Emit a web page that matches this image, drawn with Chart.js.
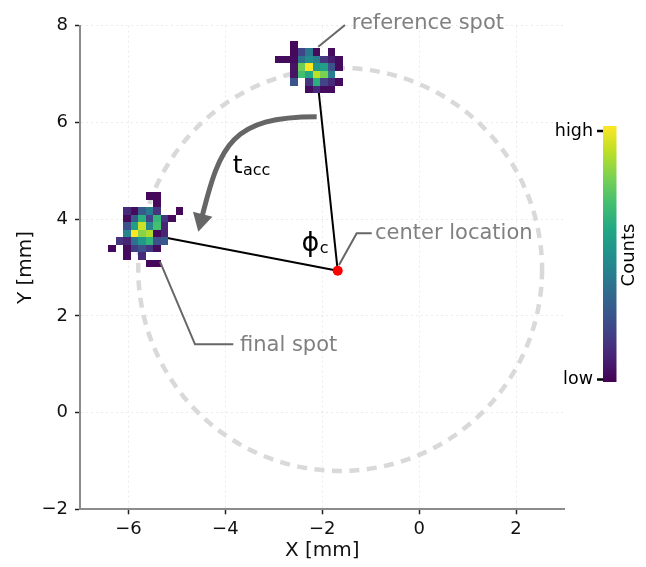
<!DOCTYPE html>
<html>
<head>
<meta charset="utf-8">
<script src="https://cdn.jsdelivr.net/npm/chart.js@4.4.1/dist/chart.umd.min.js"></script>
<style>
  html, body { margin: 0; padding: 0; background: #fff; }
  #wrap { width: 646px; height: 567px; }
</style>
</head>
<body>
<div id="wrap"><canvas id="spotChart" width="646" height="567"></canvas></div>
<script>
// axes
const xTicks = [-6, -4, -2, 0, 2];
const yTicks = [-2, 0, 2, 4, 6, 8];
const xRange = [-7, 3];
const yRange = [-2, 8];

// geometry in mm
const centerLocation = [-1.681, 2.934];
const referenceEnd = [-2.12, 7.08];
const finalEnd = [-5.76, 3.72];
const circleCenter = [-1.63, 2.96];
const circleRadius = 4.167;

// spot images (rows from top, null = no counts), values 0..1 on the colour scale
const cellSize = 0.155;
const referenceOrigin = [-2.975, 7.684];
const finalOrigin = [-6.416, 4.555];
const referenceCounts = [
  [null, null, 0.02, null, null, null, null, null, null],
  [null, null, 0.02, 0.2, 0.41, 0.03, null, 0.03, null],
  [0.03, 0.03, 0.03, 0.38, 0.48, 0.42, 0.16, 0.08, 0.03],
  [null, null, 0.05, 0.78, 1.0, 0.52, 0.56, 0.25, 0.03],
  [null, null, 0.05, 0.7, 0.6, 0.9, 0.8, 0.42, null],
  [null, null, 0.26, null, 0.15, 0.63, 0.2, 0.12, 0.03],
  [null, null, null, null, 0.03, 0.12, 0.03, 0.03, null]
];
const finalCounts = [
  [null, null, null, null, null, 0.02, 0.02, null, null, null],
  [null, null, null, null, null, null, 0.02, null, null, null],
  [null, null, 0.12, 0.03, 0.28, 0.41, 0.15, null, null, 0.02],
  [null, null, 0.03, 0.28, 0.63, 0.2, 0.66, 0.16, 0.03, null],
  [null, null, 0.25, 0.56, 0.92, 0.45, 0.7, 0.1, null, null],
  [null, null, 0.46, 1.0, 0.82, 0.88, 0.02, 0.1, null, null],
  [null, 0.15, 0.1, 0.37, 0.53, 0.65, 0.25, 0.28, null, null],
  [0.02, null, 0.03, 0.18, 0.25, 0.16, 0.03, null, null, null],
  [null, null, 0.03, null, 0.12, null, null, null, null, null],
  [null, null, null, null, null, 0.02, 0.02, null, null, null]
];

// curved t_acc arrow (start, two control points, tip)
const arrowPath = [[-2.115, 6.118], [-3.869, 6.118], [-4.106, 5.546], [-4.558, 3.74]];

// annotation leaders and their labels
const leaders = [
  { text: 'reference spot', path: [[-2.082, 7.566], [-1.530, 8.014]], label: [-1.392, 7.942] },
  { text: 'center location', path: [[-1.654, 3.052], [-1.289, 3.707], [-0.979, 3.707]], label: [-0.911, 3.589] },
  { text: 'final spot', path: [[-5.349, 3.120], [-4.626, 1.412], [-3.836, 1.412]], label: [-3.698, 1.280] }
];
const symbolLabels = [
  { main: 't', sub: 'acc', at: [-3.848, 4.948], size: 25, subSize: 16 },
  { main: '\u03d5', sub: 'c', at: [-2.43, 3.34], size: 27, subSize: 16 }
];
const colorbarTicks = ['low', 'high'];

const viridis = ['#440154', '#482475', '#414487', '#355f8d', '#2a788e', '#21918c',
                 '#22a884', '#44bf70', '#7ad151', '#bddf26', '#fde725'];
const FONT = "'DejaVu Sans', sans-serif";

function hexRgb(h) {
  return [1, 3, 5].map(i => parseInt(h.slice(i, i + 2), 16));
}
function cmap(v) {
  const t = Math.max(0, Math.min(1, v)) * 10;
  const i = Math.min(9, Math.floor(t)), f = t - i;
  const a = hexRgb(viridis[i]), b = hexRgb(viridis[i + 1]);
  const c = a.map((ai, k) => Math.round(ai + (b[k] - ai) * f));
  return `rgb(${c[0]},${c[1]},${c[2]})`;
}
function minus(v) {
  return v < 0 ? '\u2212' + Math.abs(v) : String(v);
}

const decor = {
  id: 'decor',
  beforeDatasetsDraw(chart) {
    const { ctx, scales: { x, y } } = chart;
    const cx = x.getPixelForValue(circleCenter[0]);
    const cy = y.getPixelForValue(circleCenter[1]);
    const rx = x.getPixelForValue(circleCenter[0] + circleRadius) - cx;
    const ry = cy - y.getPixelForValue(circleCenter[1] + circleRadius);
    ctx.save();
    ctx.strokeStyle = '#d9d9d9';
    ctx.lineWidth = 4.5;
    ctx.setLineDash([10, 7.5]);
    ctx.beginPath();
    ctx.ellipse(cx, cy, rx, ry, 0, 0, Math.PI * 2);
    ctx.stroke();
    ctx.restore();
  },
  afterDatasetsDraw(chart) {
    const { ctx, scales: { x, y } } = chart;
    const P = p => ({ x: x.getPixelForValue(p[0]), y: y.getPixelForValue(p[1]) });

    // spot images
    function drawSpot(grid, origin) {
      grid.forEach((row, r) => row.forEach((v, c) => {
        if (v === null) return;
        const x0 = Math.round(x.getPixelForValue(origin[0] + c * cellSize));
        const x1 = Math.round(x.getPixelForValue(origin[0] + (c + 1) * cellSize));
        const y0 = Math.round(y.getPixelForValue(origin[1] - r * cellSize));
        const y1 = Math.round(y.getPixelForValue(origin[1] - (r + 1) * cellSize));
        ctx.fillStyle = cmap(v);
        ctx.fillRect(x0, y0, x1 - x0, y1 - y0);
      }));
    }
    drawSpot(referenceCounts, referenceOrigin);
    drawSpot(finalCounts, finalOrigin);

    // curved arrow
    const [s, c1, c2, tip] = arrowPath.map(P);
    let ux = tip.x - c2.x, uy = tip.y - c2.y;
    const len = Math.hypot(ux, uy);
    ux /= len; uy /= len;
    const headLen = 18, headHalf = 10;
    const base = { x: tip.x - ux * headLen, y: tip.y - uy * headLen };
    ctx.save();
    ctx.strokeStyle = '#666666';
    ctx.fillStyle = '#666666';
    ctx.lineWidth = 5;
    ctx.beginPath();
    ctx.moveTo(s.x, s.y);
    ctx.bezierCurveTo(c1.x, c1.y, c2.x, c2.y, base.x + ux * 2, base.y + uy * 2);
    ctx.stroke();
    ctx.beginPath();
    ctx.moveTo(tip.x, tip.y);
    ctx.lineTo(base.x - uy * headHalf, base.y + ux * headHalf);
    ctx.lineTo(base.x + uy * headHalf, base.y - ux * headHalf);
    ctx.closePath();
    ctx.fill();
    ctx.restore();

    // leaders + labels
    ctx.save();
    ctx.strokeStyle = '#666666';
    ctx.lineWidth = 2;
    ctx.font = `21px ${FONT}`;
    ctx.fillStyle = '#808080';
    ctx.textAlign = 'left';
    ctx.textBaseline = 'alphabetic';
    leaders.forEach(l => {
      ctx.beginPath();
      l.path.map(P).forEach((p, i) => i ? ctx.lineTo(p.x, p.y) : ctx.moveTo(p.x, p.y));
      ctx.stroke();
      const lp = P(l.label);
      ctx.fillText(l.text, lp.x, lp.y);
    });
    ctx.restore();

    // symbols
    ctx.save();
    ctx.fillStyle = '#000';
    ctx.textBaseline = 'alphabetic';
    symbolLabels.forEach(sl => {
      const p = P(sl.at);
      ctx.font = `${sl.size}px ${FONT}`;
      ctx.fillText(sl.main, p.x, p.y);
      const w = ctx.measureText(sl.main).width;
      ctx.font = `${sl.subSize}px ${FONT}`;
      ctx.fillText(sl.sub, p.x + w + 0.5, p.y + 2);
    });
    ctx.restore();

    // colour bar
    const cb = { left: 603, right: 616.5, top: 126, bottom: 382 };
    const grad = ctx.createLinearGradient(0, cb.bottom, 0, cb.top);
    viridis.forEach((col, i) => grad.addColorStop(i / 10, col));
    ctx.save();
    ctx.fillStyle = grad;
    ctx.fillRect(cb.left, cb.top, cb.right - cb.left, cb.bottom - cb.top);
    ctx.strokeStyle = '#000';
    ctx.lineWidth = 2.5;
    ctx.fillStyle = '#000';
    ctx.font = `17.5px ${FONT}`;
    ctx.textAlign = 'right';
    ctx.textBaseline = 'middle';
    const tickY = [379.5, 131];
    colorbarTicks.forEach((t, i) => {
      ctx.beginPath();
      ctx.moveTo(597, tickY[i]);
      ctx.lineTo(603, tickY[i]);
      ctx.stroke();
      ctx.fillText(t, 593, tickY[i]);
    });
    ctx.translate(629, 255);
    ctx.rotate(-Math.PI / 2);
    ctx.textAlign = 'center';
    ctx.font = `18px ${FONT}`;
    ctx.fillText('Counts', 0, 0);
    ctx.restore();
  }
};

const pt = p => ({ x: p[0], y: p[1] });

new Chart(document.getElementById('spotChart'), {
  type: 'scatter',
  data: {
    datasets: [
      {
        data: [pt(centerLocation)],
        pointRadius: 5,
        pointBackgroundColor: '#ff0000',
        pointBorderWidth: 0
      },
      {
        data: [pt(centerLocation), pt(referenceEnd)],
        showLine: true,
        borderColor: '#000',
        borderWidth: 2,
        pointRadius: 0
      },
      {
        data: [pt(centerLocation), pt(finalEnd)],
        showLine: true,
        borderColor: '#000',
        borderWidth: 2,
        pointRadius: 0
      }
    ]
  },
  options: {
    responsive: false,
    animation: false,
    devicePixelRatio: 1,
    layout: { padding: { left: 0, right: 81.5, top: 25.7, bottom: 0 } },
    plugins: { legend: { display: false }, tooltip: { enabled: false } },
    scales: {
      x: {
        type: 'linear',
        min: xRange[0], max: xRange[1],
        afterBuildTicks: s => { s.ticks = xTicks.map(v => ({ value: v })); },
        afterFit: s => { s.height = 57.7; },
        grid: { color: 'rgba(0,0,0,0.08)', lineWidth: 1, tickLength: 5, tickColor: '#222', tickWidth: 1.5, tickBorderDash: [] },
        border: { color: '#8c8c8c', width: 2, dash: [2, 3] },
        ticks: { color: '#111', font: { family: FONT, size: 18 }, padding: 4, callback: v => minus(v) },
        title: { display: true, text: 'X [mm]', color: '#111', font: { family: FONT, size: 20 }, padding: { top: 0, bottom: 4 } }
      },
      y: {
        type: 'linear',
        min: yRange[0], max: yRange[1],
        afterBuildTicks: s => { s.ticks = yTicks.map(v => ({ value: v })); },
        afterFit: s => { s.width = 80; },
        grid: { color: 'rgba(0,0,0,0.08)', lineWidth: 1, tickLength: 5, tickColor: '#222', tickWidth: 1.5, tickBorderDash: [] },
        border: { color: '#8c8c8c', width: 2, dash: [2, 3] },
        ticks: { color: '#111', font: { family: FONT, size: 18 }, padding: 7, callback: v => minus(v) },
        title: { display: true, text: 'Y [mm]', color: '#111', font: { family: FONT, size: 20 }, padding: { top: 13.5, bottom: 0 } }
      }
    }
  },
  plugins: [decor]
});
</script>
</body>
</html>
